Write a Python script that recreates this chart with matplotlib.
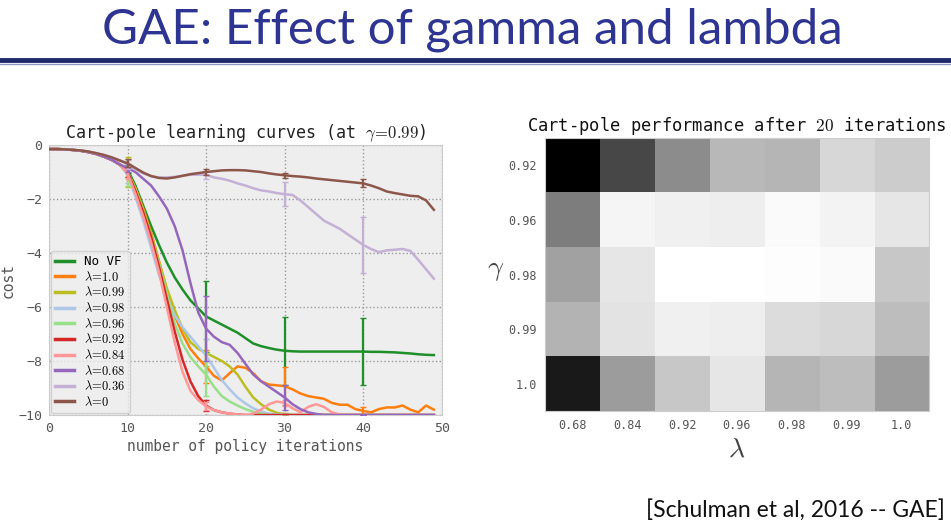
import numpy as np
import matplotlib
matplotlib.use('Agg')
import matplotlib.pyplot as plt

plt.rcParams['mathtext.fontset'] = 'cm'
plt.rcParams['font.family'] = 'DejaVu Sans Mono'

# ---- learning curves (cost vs. policy iteration, gamma = 0.99) ----
iters = np.arange(50)

early = [-0.15, -0.15, -0.16, -0.18, -0.21, -0.26, -0.33, -0.43, -0.55, -0.72]

cost_novf = early + [
    -0.9, -1.5, -2.25, -3.0, -3.7, -4.35, -4.9, -5.35, -5.75, -6.05,
    -6.35, -6.5, -6.65, -6.8, -6.95, -7.15, -7.35, -7.45, -7.52, -7.58,
    -7.62, -7.64, -7.65, -7.65, -7.65, -7.65, -7.65, -7.65, -7.65, -7.65,
    -7.65, -7.66, -7.66, -7.67, -7.68, -7.7, -7.72, -7.75, -7.77, -7.78]
cost_l100 = early + [
    -1.0, -1.6, -2.35, -3.25, -4.3, -5.4, -6.3, -7.0, -7.55, -7.9,
    -8.2, -8.55, -8.72, -8.45, -8.2, -8.25, -8.45, -8.75, -8.87, -8.9,
    -8.93, -9.05, -9.2, -9.3, -9.35, -9.4, -9.55, -9.62, -9.62, -9.78,
    -9.85, -9.9, -9.78, -9.72, -9.72, -9.65, -9.8, -9.9, -9.65, -9.8]
cost_l099 = early + [
    -1.0, -1.6, -2.4, -3.3, -4.3, -5.3, -6.1, -6.8, -7.3, -7.55,
    -7.7, -7.85, -8.0, -8.2, -8.5, -8.95, -9.35, -9.6, -9.8, -9.92,
    -9.97, -10.0, -10.0, -10.0, -10.0, -10.0, -10.0, -10.0, -10.0, -10.0,
    -10.0, -10.0, -10.0, -10.0, -10.0, -10.0, -10.0, -10.0, -10.0, -10.0]
cost_l098 = early + [
    -1.1, -1.9, -2.8, -3.8, -4.8, -5.6, -6.3, -6.75, -7.1, -7.45,
    -7.8, -8.25, -8.7, -9.05, -9.35, -9.57, -9.75, -9.87, -9.95, -9.98,
    -10.0, -10.0, -10.0, -10.0, -10.0, -10.0, -10.0, -10.0, -10.0, -10.0,
    -10.0, -10.0, -10.0, -10.0, -10.0, -10.0, -10.0, -10.0, -10.0, -10.0]
cost_l096 = early + [
    -1.0, -1.65, -2.5, -3.4, -4.4, -5.5, -6.6, -7.35, -7.85, -8.2,
    -8.5, -8.95, -9.3, -9.5, -9.65, -9.78, -9.88, -9.95, -10.0, -10.0,
    -10.0, -10.0, -10.0, -10.0, -10.0, -10.0, -10.0, -10.0, -10.0, -10.0,
    -10.0, -10.0, -10.0, -10.0, -10.0, -10.0, -10.0, -10.0, -10.0, -10.0]
cost_l092 = early + [
    -1.0, -1.7, -2.5, -3.4, -4.5, -5.7, -6.9, -7.95, -8.75, -9.3,
    -9.65, -9.82, -9.9, -9.95, -9.98, -10.0, -10.0, -10.0, -10.0, -10.0,
    -10.0, -10.0, -10.0, -10.0, -10.0, -10.0, -10.0, -10.0, -10.0, -10.0,
    -10.0, -10.0, -10.0, -10.0, -10.0, -10.0, -10.0, -10.0, -10.0, -10.0]
cost_l084 = early + [
    -1.05, -1.8, -2.65, -3.6, -4.7, -6.0, -7.3, -8.4, -9.1, -9.45,
    -9.68, -9.82, -9.9, -9.95, -9.98, -10.0, -9.95, -9.8, -9.6, -9.5,
    -9.55, -9.75, -9.9, -9.7, -9.6, -9.7, -9.9, -9.98, -10.0, -10.0,
    -10.0, -10.0, -10.0, -10.0, -10.0, -10.0, -10.0, -10.0, -10.0, -10.0]
cost_l068 = early + [
    -0.85, -1.0, -1.25, -1.5, -1.9, -2.35, -3.0, -3.9, -5.1, -6.2,
    -6.8, -7.1, -7.3, -7.4, -7.7, -8.1, -8.5, -8.75, -8.95, -9.15,
    -9.35, -9.6, -9.78, -9.9, -9.96, -10.0, -10.0, -10.0, -10.0, -10.0,
    -10.0, -10.0, -10.0, -10.0, -10.0, -10.0, -10.0, -10.0, -10.0, -10.0]
cost_l036 = [
    -0.15, -0.15, -0.16, -0.18, -0.2, -0.24, -0.3, -0.37, -0.46, -0.57,
    -0.72, -0.9, -1.05, -1.15, -1.2, -1.2, -1.18, -1.14, -1.1, -1.1,
    -1.1, -1.2, -1.25, -1.32, -1.42, -1.5, -1.6, -1.68, -1.72, -1.78,
    -1.82, -1.85, -2.05, -2.3, -2.55, -2.8, -2.95, -3.1, -3.3, -3.5,
    -3.7, -3.85, -3.97, -3.9, -3.88, -3.85, -3.92, -4.25, -4.6, -4.95]
cost_l0 = [
    -0.15, -0.15, -0.16, -0.18, -0.2, -0.24, -0.3, -0.37, -0.46, -0.57,
    -0.68, -0.85, -1.02, -1.15, -1.22, -1.24, -1.2, -1.14, -1.08, -1.04,
    -1.0, -0.97, -0.94, -0.93, -0.93, -0.94, -0.97, -1.0, -1.05, -1.09,
    -1.12, -1.15, -1.17, -1.2, -1.24, -1.27, -1.3, -1.33, -1.36, -1.39,
    -1.42, -1.5, -1.6, -1.72, -1.78, -1.83, -1.88, -1.9, -2.05, -2.4]

# error bars at iterations 10, 20, 30, 40
err_iters = [10, 20, 30, 40]
err_novf = [0.15, 1.3, 1.25, 1.25]
err_l100 = [0.2, 0.6, 0.7, 0.15]
err_l099 = [0.55, 0.5, 0.05, 0.02]
err_l098 = [0.3, 0.6, 0.05, 0.0]
err_l096 = [0.5, 0.8, 0.05, 0.0]
err_l092 = [0.2, 0.2, 0.02, 0.0]
err_l084 = [0.2, 0.15, 0.1, 0.0]
err_l068 = [0.15, 1.2, 0.45, 0.0]
err_l036 = [0.15, 0.15, 0.45, 1.05]
err_l0 = [0.15, 0.12, 0.1, 0.15]

labels = ['No VF', r'$\lambda\!=\!1.0$', r'$\lambda\!=\!0.99$', r'$\lambda\!=\!0.98$',
          r'$\lambda\!=\!0.96$', r'$\lambda\!=\!0.92$', r'$\lambda\!=\!0.84$',
          r'$\lambda\!=\!0.68$', r'$\lambda\!=\!0.36$', r'$\lambda\!=\!0$']
curves = [cost_novf, cost_l100, cost_l099, cost_l098, cost_l096,
          cost_l092, cost_l084, cost_l068, cost_l036, cost_l0]
errs = [err_novf, err_l100, err_l099, err_l098, err_l096,
        err_l092, err_l084, err_l068, err_l036, err_l0]
colors = ['#1f8f2a', '#ff7f0e', '#bcbd22', '#aec7e8', '#98df8a',
          '#d62728', '#ff9896', '#9467bd', '#c5b0d5', '#8c564b']

# ---- heatmap: performance after 20 iterations ----
gammas = ['0.92', '0.96', '0.98', '0.99', '1.0']
lambdas = ['0.68', '0.84', '0.92', '0.96', '0.98', '0.99', '1.0']
perf = np.array([
    [0.00, 0.28, 0.55, 0.72, 0.71, 0.84, 0.80],
    [0.49, 0.96, 0.94, 0.93, 0.98, 0.95, 0.90],
    [0.63, 0.90, 1.00, 1.00, 0.99, 0.98, 0.78],
    [0.70, 0.89, 0.94, 0.93, 0.86, 0.84, 0.74],
    [0.10, 0.61, 0.78, 0.90, 0.71, 0.74, 0.61],
])

fig = plt.figure(figsize=(9.51, 5.27), dpi=100)

# slide header
fig.text(0.497, 0.943, 'GAE: Effect of gamma and lambda', ha='center',
         va='center', fontsize=35.5, color='#2d3491', family='Lato')
fig.add_artist(plt.Line2D([0, 1], [0.886, 0.886], color='#1f2a6e', lw=3.5))
fig.add_artist(plt.Line2D([0, 1], [0.878, 0.878], color='#8f97c4', lw=1))
fig.text(0.994, 0.032, '[Schulman et al, 2016 -- GAE]', ha='right',
         va='center', fontsize=16.5, color='#111111', family='Lato')

# left panel
ax1 = fig.add_axes([0.0515, 0.2125, 0.413, 0.5123])
ax1.set_facecolor('#eeeeee')
for i, (y, e, c, lab) in enumerate(zip(curves, errs, colors, labels)):
    ax1.plot(iters, y, color=c, lw=1.8, label=lab, zorder=3 + i * 0.01)
    yv = [y[k] for k in err_iters]
    ax1.errorbar(err_iters, yv, yerr=e, fmt='none', ecolor=c, elinewidth=1.6,
                 capsize=2.5, capthick=1, zorder=3 + i * 0.01)
ax1.set_xlim(0, 50)
ax1.set_ylim(-10, 0)
ax1.set_xticks([0, 10, 20, 30, 40, 50])
ax1.set_yticks([0, -2, -4, -6, -8, -10])
ax1.grid(True, ls=':', color='#999999', lw=1)
ax1.tick_params(length=0, labelsize=9.5, labelcolor='#555555', pad=5)
for s in ax1.spines.values():
    s.set_color('#cccccc')
ax1.set_title(r'Cart-pole learning curves (at $\gamma\!=\!0.99$)', fontsize=12,
              color='#222222', pad=5)
ax1.set_xlabel('number of policy iterations', fontsize=10.5, color='#555555',
               labelpad=3)
ax1.set_ylabel('cost', fontsize=10.5, color='#555555', labelpad=2)
leg = ax1.legend(loc='lower left', fontsize=9, handlelength=1.5,
                 handletextpad=0.8, labelspacing=0.13, borderpad=0.35,
                 borderaxespad=0.15, frameon=True)
leg.get_frame().set_facecolor('#eeeeee')
leg.get_frame().set_edgecolor('#cccccc')
for line in leg.get_lines():
    line.set_linewidth(2.5)

# right panel
ax2 = fig.add_axes([0.573, 0.2201, 0.4038, 0.518])
ax2.imshow(perf, cmap='gray', vmin=0, vmax=1, aspect='auto',
           interpolation='nearest')
ax2.set_xticks(range(len(lambdas)))
ax2.set_xticklabels(lambdas)
ax2.set_yticks(range(len(gammas)))
ax2.set_yticklabels(gammas)
ax2.tick_params(length=0, labelsize=8.5, labelcolor='#555555', pad=6)
for s in ax2.spines.values():
    s.set_color('#cccccc')
ax2.set_title(r'Cart-pole performance after $20$ iterations', fontsize=12.3,
              color='#111111', pad=5)
ax2.set_xlabel(r'$\lambda$', fontsize=20, color='#444444', labelpad=2)
ax2.set_ylabel(r'$\gamma$', fontsize=20, color='#444444', rotation=0)
ax2.yaxis.set_label_coords(-0.128, 0.47)

fig.savefig('out.png', dpi=100)
